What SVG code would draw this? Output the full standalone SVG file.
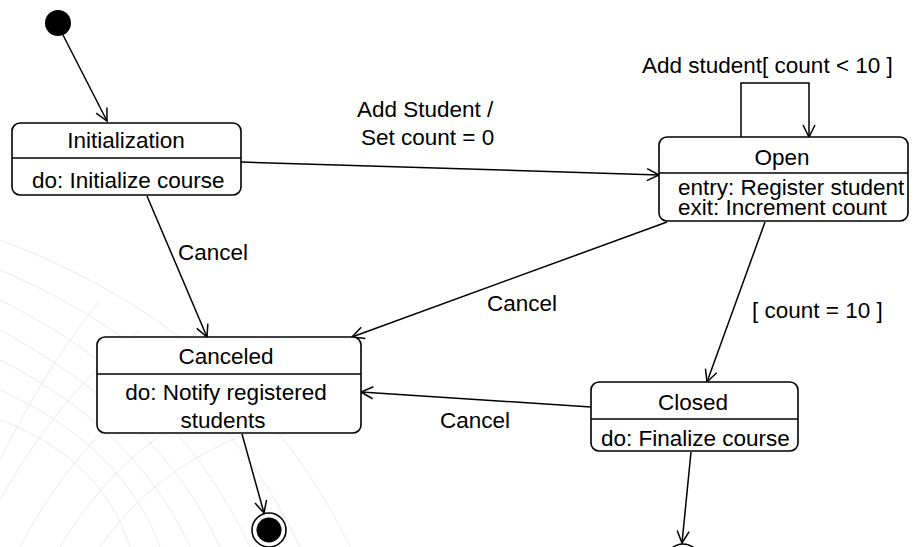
<svg xmlns="http://www.w3.org/2000/svg" width="917" height="547" viewBox="0 0 917 547">
  <style>
    .box { fill: #ffffff; stroke: #000000; stroke-width: 1.6; }
    .div { stroke: #000000; stroke-width: 1.6; }
    .edge { fill: none; stroke: #000000; stroke-width: 1.5; }
    .t { font-family: "Liberation Sans", Arial, sans-serif; font-size: 22.5px; fill: #000000; }
    .c { text-anchor: middle; }
    .mesh { fill: none; stroke: #d3d9e0; stroke-width: 1; opacity: 0.55; }
  </style>
  <defs>
    <marker id="open" markerUnits="userSpaceOnUse" markerWidth="16" markerHeight="16" refX="13" refY="7" orient="auto">
      <path d="M1,1 L13,7 L1,13" fill="none" stroke="#000000" stroke-width="1.5"/>
    </marker>
  </defs>

  <rect width="917" height="547" fill="#ffffff"/>

  <!-- faint decorative mesh in the background -->
  <g id="background">
    <path class="mesh" d="M0,300 C120,360 200,440 250,547"/>
    <path class="mesh" d="M0,330 C110,390 180,460 220,547"/>
    <path class="mesh" d="M0,360 C100,410 160,480 190,547"/>
    <path class="mesh" d="M0,390 C90,430 140,490 160,547"/>
    <path class="mesh" d="M0,420 C80,450 115,500 130,547"/>
    <path class="mesh" d="M0,270 C140,330 240,420 300,547"/>
    <path class="mesh" d="M0,240 C160,300 280,400 350,547"/>
    <path class="mesh" d="M20,547 C60,470 120,400 200,360"/>
    <path class="mesh" d="M60,547 C100,480 160,420 260,380"/>
    <path class="mesh" d="M100,547 C140,490 200,440 320,410"/>
    <path class="mesh" d="M0,500 C40,430 80,380 140,330"/>
    <path class="mesh" d="M0,460 C30,400 60,350 100,300"/>
  </g>

  <!-- connectors -->
  <g id="connectors">
    <line class="edge" x1="63" y1="35" x2="107" y2="121" marker-end="url(#open)"/>
    <line class="edge" x1="241" y1="162" x2="659" y2="175" marker-end="url(#open)"/>
    <polyline class="edge" points="741,137 741,83 809,83 809,137" marker-end="url(#open)"/>
    <line class="edge" x1="147" y1="196" x2="207" y2="337" marker-end="url(#open)"/>
    <line class="edge" x1="667" y1="222" x2="352" y2="337" marker-end="url(#open)"/>
    <line class="edge" x1="765" y1="222" x2="707" y2="382" marker-end="url(#open)"/>
    <line class="edge" x1="591" y1="407" x2="361" y2="392" marker-end="url(#open)"/>
    <line class="edge" x1="242" y1="434" x2="264" y2="513" marker-end="url(#open)"/>
    <line class="edge" x1="691" y1="452" x2="682" y2="543" marker-end="url(#open)"/>

    <text class="t" x="357" y="117">Add Student /</text>
    <text class="t" x="361" y="145">Set count = 0</text>
    <text class="t" x="642" y="73">Add student[ count &lt; 10 ]</text>
    <text class="t" x="178" y="260">Cancel</text>
    <text class="t" x="487" y="311">Cancel</text>
    <text class="t" x="752" y="318">[ count = 10 ]</text>
    <text class="t" x="440" y="428">Cancel</text>
  </g>

  <g id="initial">
    <circle cx="58" cy="23" r="13" fill="#000000"/>
  </g>

  <g id="initialization">
    <rect class="box" x="12" y="123" width="229" height="72" rx="8"/>
    <line class="div" x1="12" y1="158" x2="241" y2="158"/>
    <text class="t c" x="126" y="148">Initialization</text>
    <text class="t" x="32" y="188">do: Initialize course</text>
  </g>

  <g id="open-state">
    <rect class="box" x="659" y="137" width="249" height="84" rx="8"/>
    <line class="div" x1="659" y1="173" x2="908" y2="173"/>
    <text class="t c" x="782" y="165">Open</text>
    <text class="t" x="678" y="195">entry: Register student</text>
    <text class="t" x="678" y="215">exit: Increment count</text>
  </g>

  <g id="canceled">
    <rect class="box" x="97" y="337" width="264" height="96" rx="8"/>
    <line class="div" x1="97" y1="374" x2="361" y2="374"/>
    <text class="t c" x="226" y="364">Canceled</text>
    <text class="t c" x="226" y="400">do: Notify registered</text>
    <text class="t c" x="223" y="428">students</text>
  </g>

  <g id="closed">
    <rect class="box" x="591" y="382" width="207" height="69" rx="8"/>
    <line class="div" x1="591" y1="419" x2="798" y2="419"/>
    <text class="t c" x="693" y="410">Closed</text>
    <text class="t" x="601" y="446">do: Finalize course</text>
  </g>

  <g id="final-canceled">
    <circle cx="269" cy="530" r="17" fill="#ffffff" stroke="#000000" stroke-width="1.6"/>
    <circle cx="269" cy="530" r="12.5" fill="#000000"/>
  </g>

  <g id="final-closed">
    <circle cx="683" cy="561" r="17" fill="#ffffff" stroke="#000000" stroke-width="1.6"/>
    <circle cx="683" cy="561" r="12.5" fill="#000000"/>
  </g>
</svg>
